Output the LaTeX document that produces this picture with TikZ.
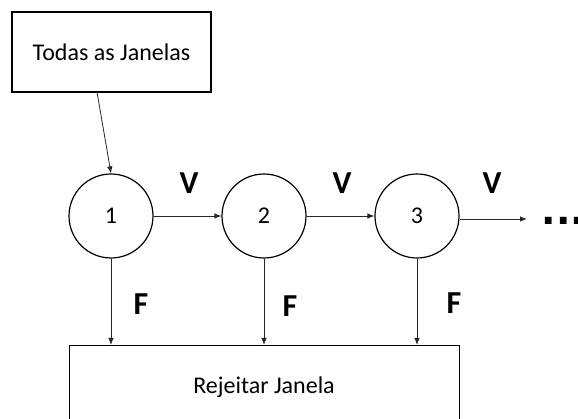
\documentclass[tikz,border=0pt]{standalone}
\usepackage{fontspec}
\setmainfont{Carlito}
\newfontfamily\dotfont{DejaVu Sans}
\usetikzlibrary{arrows.meta}
\begin{document}
\begin{tikzpicture}[x=1pt,y=-1pt,
  box/.style={draw=black,line width=1.2pt,inner sep=0pt,font=\fontsize{24}{28}\selectfont},
  st/.style={draw=black,circle,line width=1.2pt,minimum size=84pt,inner sep=0pt,font=\fontsize{24}{28}\selectfont},
  lbl/.style={inner sep=0pt,font=\fontsize{32}{36}\selectfont\bfseries},
  arr/.style={draw=black!85,line width=0.8pt,-{Latex[length=7pt,width=5.5pt]}}]
\useasboundingbox (0,0) rectangle (578,419);
\node[box,minimum width=199pt,minimum height=80pt] (all) at (111.5,52) {Todas as Janelas};
\node[st] (s1) at (111,216) {1};
\node[st] (s2) at (264,216) {2};
\node[st] (s3) at (417,216) {3};
\node[box,minimum width=390pt,minimum height=110pt,anchor=north west] (rej) at (69,345) {};
\node[inner sep=0pt,font=\fontsize{24}{28}\selectfont] (rt) at (264,387) {Rejeitar Janela};
\coordinate (a0) at (97,92);
\draw[arr] (a0) -- (s1.north);
\draw[arr] (s1) -- (s2);
\draw[arr] (s2) -- (s3);
\coordinate (e3) at (527,219);
\draw[arr] (s3.east |- e3) -- (e3);
\node[inner sep=0pt,anchor=base west,font=\dotfont\fontsize{38}{42}\selectfont\bfseries] (dots) at (541.5,224.5) {...};
\node[lbl] (v1) at (189,183) {V};
\node[lbl] (v2) at (342,183) {V};
\node[lbl] (v3) at (492,183) {V};
\node[lbl] (f1) at (141,304) {F};
\node[lbl] (f2) at (290,306) {F};
\node[lbl] (f3) at (454,303) {F};
\draw[arr] (s1.south) -- (s1.south |- rej.north);
\draw[arr] (s2.south) -- (s2.south |- rej.north);
\draw[arr] (s3.south) -- (s3.south |- rej.north);
\end{tikzpicture}
\end{document}
